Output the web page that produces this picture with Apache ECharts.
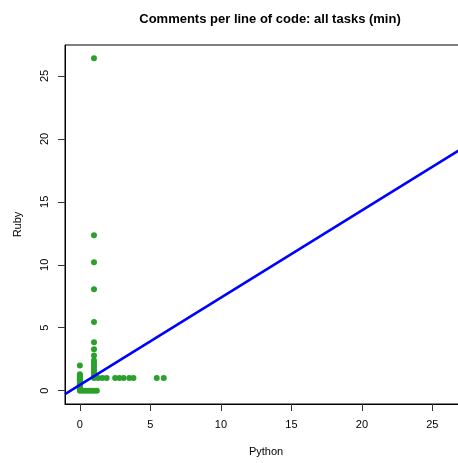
<!DOCTYPE html>
<html><head><meta charset="utf-8">
<script src="https://cdn.jsdelivr.net/npm/echarts@6/dist/echarts.min.js"></script>
<style>html,body{margin:0;padding:0;background:#fff;overflow:hidden;width:458px;height:463px}#c{width:472px;height:463px}</style>
</head><body><div id="c"></div>
<script>
// Data
const pythonVals = [
  0,0,0,0,0,0,0,0,0,0,0,0,0,0,0,
  0.2,0.4,0.6,0.8,1.0,1.2,
  1,1,1,1,1,1,1,1,1,1,1,1,1,1,1,1,
  1.3,1.6,1.9,2.5,2.8,3.1,3.5,3.8,5.45,5.95
];
const rubyVals = [
  0,0.1,0.2,0.3,0.4,0.5,0.6,0.7,0.8,0.9,1.0,1.1,1.2,1.3,2.0,
  0,0,0,0,0,0,
  1.0,1.2,1.4,1.6,1.8,2.0,2.2,2.4,2.8,3.3,3.85,5.45,8.05,10.2,12.35,26.4,
  1,1,1,1,1,1,1,1,1,1
];
const tickVals = [0,5,10,15,20,25];
const fitLine = {intercept: 0.46, slope: 0.693};
const axisMin = -1.056, axisMax = 27.456;

const points = pythonVals.map((x,i)=>[x, rubyVals[i]]);
const lineData = [axisMin, axisMax].map(x=>[x, fitLine.intercept + fitLine.slope*x]);

const font = 'Liberation Sans, Arial, Helvetica, sans-serif';
const chart = echarts.init(document.getElementById('c'), null, {renderer:'canvas'});
chart.setOption({
  animation:false,
  backgroundColor:'#fff',
  title:{text:'Comments per line of code: all tasks (min)', left:265, top:8, textAlign:'center',
    textStyle:{fontFamily:font, fontSize:13, fontWeight:'bold', color:'#000'}},
  grid:{left:65, top:45, bottom:59, right:5, show:true, borderColor:'#000', borderWidth:1, backgroundColor:'transparent'},
  xAxis:{type:'value', min:axisMin, max:axisMax, name:'Python', nameLocation:'middle', nameGap:42,
    nameTextStyle:{fontFamily:font, fontSize:11, color:'#000'},
    splitLine:{show:false},
    axisLine:{show:true, onZero:false, lineStyle:{color:'#000', width:1}},
    axisTick:{show:true, length:7, customValues:tickVals, lineStyle:{color:'#333'}},
    axisLabel:{customValues:tickVals, margin:15, fontFamily:font, fontSize:11, color:'#000'}},
  yAxis:{type:'value', min:axisMin, max:axisMax, name:'Ruby', nameLocation:'middle', nameGap:42, nameRotate:90,
    nameTextStyle:{fontFamily:font, fontSize:11, color:'#000'},
    splitLine:{show:false},
    axisLine:{show:true, onZero:false, lineStyle:{color:'#000', width:1}},
    axisTick:{show:true, length:7, customValues:tickVals, lineStyle:{color:'#333'}},
    axisLabel:{customValues:tickVals, rotate:90, margin:15, fontFamily:font, fontSize:11, color:'#000'}},
  series:[
    {type:'scatter', data:points, symbol:'circle', symbolSize:6, itemStyle:{color:'#2ca02c', opacity:1}, z:2},
    {type:'line', data:lineData, showSymbol:false, symbol:'none', clip:true,
      lineStyle:{color:'#0000ff', width:2.5}, z:3}
  ]
});
</script></body></html>
